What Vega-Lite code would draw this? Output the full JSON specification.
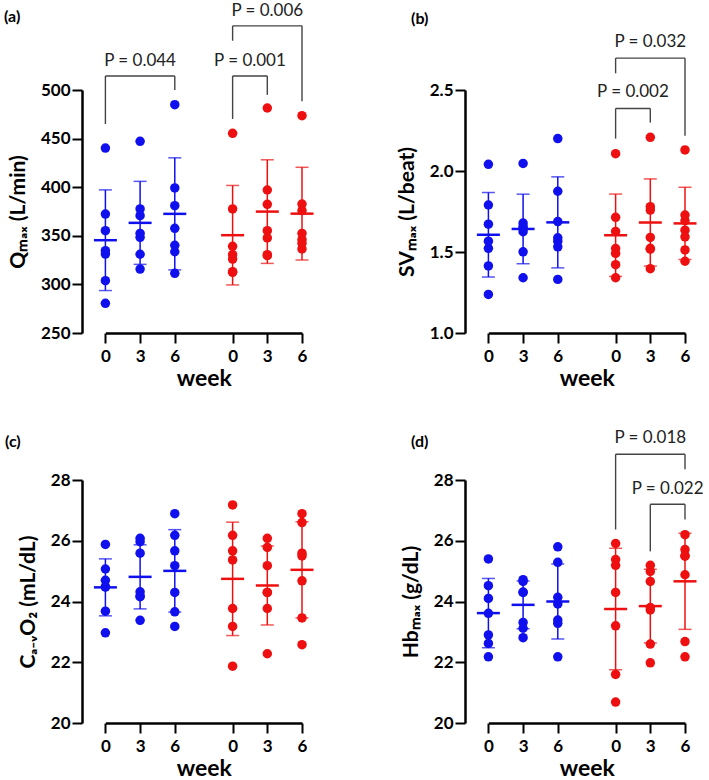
{
"$schema":"https://vega.github.io/schema/vega-lite/v6.json",
"background":"white",
"padding":{"left":4,"top":2,"right":2,"bottom":3},
"config":{
 "view":{"stroke":null},
 "font":"Lato",
 "axis":{"grid":false,"domainColor":"#000","domainWidth":2.5,"tickColor":"#000","tickWidth":2,"tickSize":10,"labelFont":"Lato","labelFontWeight":"bold","labelFontSize":17,"labelColor":"#000","titleFont":"Lato","titleFontWeight":"bold","titleColor":"#000"},
 "axisX":{"labelAngle":0,"labelPadding":5,"titleFontSize":23,"titlePadding":3},
 "axisY":{"titleFontSize":21,"labelPadding":2,"titlePadding":12},
 "title":{"font":"Lato","fontSize":16,"fontWeight":"bold","color":"#000","anchor":"start","frame":"group","offset":0},
 "circle":{"size":90,"opacity":1}
},
"datasets":{
 "pts":[
  {"p":"a","g":"A","c":"A0","v":440.3,"j":0},{"p":"a","g":"A","c":"A0","v":372.4,"j":0},{"p":"a","g":"A","c":"A0","v":355.3,"j":0},{"p":"a","g":"A","c":"A0","v":334.7,"j":1},{"p":"a","g":"A","c":"A0","v":331.2,"j":-1},{"p":"a","g":"A","c":"A0","v":303.8,"j":0},{"p":"a","g":"A","c":"A0","v":280.5,"j":0},
  {"p":"a","g":"A","c":"A3","v":447.2,"j":0},{"p":"a","g":"A","c":"A3","v":377.6,"j":1},{"p":"a","g":"A","c":"A3","v":370.7,"j":-1},{"p":"a","g":"A","c":"A3","v":352.5,"j":1},{"p":"a","g":"A","c":"A3","v":348.4,"j":-1},{"p":"a","g":"A","c":"A3","v":331.0,"j":0},{"p":"a","g":"A","c":"A3","v":315.8,"j":0},
  {"p":"a","g":"A","c":"A6","v":484.9,"j":0},{"p":"a","g":"A","c":"A6","v":399.2,"j":0},{"p":"a","g":"A","c":"A6","v":381.0,"j":0},{"p":"a","g":"A","c":"A6","v":357.7,"j":0},{"p":"a","g":"A","c":"A6","v":340.2,"j":-1},{"p":"a","g":"A","c":"A6","v":333.6,"j":1},{"p":"a","g":"A","c":"A6","v":311.4,"j":0},
  {"p":"a","g":"B","c":"B0","v":455.4,"j":0},{"p":"a","g":"B","c":"B0","v":377.6,"j":0},{"p":"a","g":"B","c":"B0","v":339.2,"j":-1},{"p":"a","g":"B","c":"B0","v":330.6,"j":1},{"p":"a","g":"B","c":"B0","v":326.1,"j":-1},{"p":"a","g":"B","c":"B0","v":313.1,"j":1},{"p":"a","g":"B","c":"B0","v":312.4,"j":-1},
  {"p":"a","g":"B","c":"B3","v":481.5,"j":0},{"p":"a","g":"B","c":"B3","v":397.1,"j":0},{"p":"a","g":"B","c":"B3","v":382.4,"j":0},{"p":"a","g":"B","c":"B3","v":355.3,"j":1},{"p":"a","g":"B","c":"B3","v":347.8,"j":-1},{"p":"a","g":"B","c":"B3","v":330.6,"j":1},{"p":"a","g":"B","c":"B3","v":329.6,"j":-1},
  {"p":"a","g":"B","c":"B6","v":473.6,"j":0},{"p":"a","g":"B","c":"B6","v":382.7,"j":-1},{"p":"a","g":"B","c":"B6","v":375.9,"j":0},{"p":"a","g":"B","c":"B6","v":352.5,"j":1},{"p":"a","g":"B","c":"B6","v":346.0,"j":0},{"p":"a","g":"B","c":"B6","v":342.3,"j":1},{"p":"a","g":"B","c":"B6","v":336.5,"j":-1},
  {"p":"b","g":"A","c":"A0","v":2.041,"j":0},{"p":"b","g":"A","c":"A0","v":1.790,"j":0},{"p":"b","g":"A","c":"A0","v":1.672,"j":0},{"p":"b","g":"A","c":"A0","v":1.567,"j":1},{"p":"b","g":"A","c":"A0","v":1.523,"j":-1},{"p":"b","g":"A","c":"A0","v":1.414,"j":0},{"p":"b","g":"A","c":"A0","v":1.238,"j":0},
  {"p":"b","g":"A","c":"A3","v":2.047,"j":0},{"p":"b","g":"A","c":"A3","v":1.679,"j":1},{"p":"b","g":"A","c":"A3","v":1.658,"j":0.5},{"p":"b","g":"A","c":"A3","v":1.645,"j":-1.6},{"p":"b","g":"A","c":"A3","v":1.625,"j":-0.5},{"p":"b","g":"A","c":"A3","v":1.501,"j":0},{"p":"b","g":"A","c":"A3","v":1.341,"j":0},
  {"p":"b","g":"A","c":"A6","v":2.200,"j":0},{"p":"b","g":"A","c":"A6","v":1.875,"j":0},{"p":"b","g":"A","c":"A6","v":1.688,"j":0},{"p":"b","g":"A","c":"A6","v":1.588,"j":-1},{"p":"b","g":"A","c":"A6","v":1.567,"j":1},{"p":"b","g":"A","c":"A6","v":1.532,"j":0},{"p":"b","g":"A","c":"A6","v":1.331,"j":0},
  {"p":"b","g":"B","c":"B0","v":2.107,"j":0},{"p":"b","g":"B","c":"B0","v":1.714,"j":0},{"p":"b","g":"B","c":"B0","v":1.627,"j":0},{"p":"b","g":"B","c":"B0","v":1.521,"j":-1},{"p":"b","g":"B","c":"B0","v":1.492,"j":1},{"p":"b","g":"B","c":"B0","v":1.422,"j":1},{"p":"b","g":"B","c":"B0","v":1.341,"j":0},
  {"p":"b","g":"B","c":"B3","v":2.208,"j":0},{"p":"b","g":"B","c":"B3","v":1.780,"j":1},{"p":"b","g":"B","c":"B3","v":1.759,"j":-1},{"p":"b","g":"B","c":"B3","v":1.590,"j":0},{"p":"b","g":"B","c":"B3","v":1.523,"j":-1},{"p":"b","g":"B","c":"B3","v":1.517,"j":1},{"p":"b","g":"B","c":"B3","v":1.397,"j":0},
  {"p":"b","g":"B","c":"B6","v":2.130,"j":0},{"p":"b","g":"B","c":"B6","v":1.728,"j":1},{"p":"b","g":"B","c":"B6","v":1.693,"j":-1},{"p":"b","g":"B","c":"B6","v":1.635,"j":1},{"p":"b","g":"B","c":"B6","v":1.594,"j":-1},{"p":"b","g":"B","c":"B6","v":1.513,"j":-1},{"p":"b","g":"B","c":"B6","v":1.443,"j":0},
  {"p":"c","g":"A","c":"A0","v":25.88,"j":0},{"p":"c","g":"A","c":"A0","v":25.07,"j":0},{"p":"c","g":"A","c":"A0","v":24.70,"j":0},{"p":"c","g":"A","c":"A0","v":24.48,"j":-1},{"p":"c","g":"A","c":"A0","v":24.48,"j":1},{"p":"c","g":"A","c":"A0","v":23.68,"j":0},{"p":"c","g":"A","c":"A0","v":22.97,"j":0},
  {"p":"c","g":"A","c":"A3","v":26.08,"j":-0.5},{"p":"c","g":"A","c":"A3","v":25.97,"j":0.5},{"p":"c","g":"A","c":"A3","v":25.59,"j":0},{"p":"c","g":"A","c":"A3","v":24.32,"j":-1},{"p":"c","g":"A","c":"A3","v":24.18,"j":1},{"p":"c","g":"A","c":"A3","v":24.16,"j":0},{"p":"c","g":"A","c":"A3","v":23.38,"j":0},
  {"p":"c","g":"A","c":"A6","v":26.89,"j":0},{"p":"c","g":"A","c":"A6","v":26.18,"j":0},{"p":"c","g":"A","c":"A6","v":25.67,"j":0},{"p":"c","g":"A","c":"A6","v":25.18,"j":0},{"p":"c","g":"A","c":"A6","v":24.30,"j":0},{"p":"c","g":"A","c":"A6","v":23.66,"j":0},{"p":"c","g":"A","c":"A6","v":23.18,"j":0},
  {"p":"c","g":"B","c":"B0","v":27.18,"j":0},{"p":"c","g":"B","c":"B0","v":26.18,"j":0},{"p":"c","g":"B","c":"B0","v":25.67,"j":-1},{"p":"c","g":"B","c":"B0","v":25.37,"j":1},{"p":"c","g":"B","c":"B0","v":23.77,"j":0},{"p":"c","g":"B","c":"B0","v":23.18,"j":0},{"p":"c","g":"B","c":"B0","v":21.87,"j":0},
  {"p":"c","g":"B","c":"B3","v":26.08,"j":-1},{"p":"c","g":"B","c":"B3","v":25.78,"j":1},{"p":"c","g":"B","c":"B3","v":25.18,"j":0},{"p":"c","g":"B","c":"B3","v":24.30,"j":-1},{"p":"c","g":"B","c":"B3","v":24.30,"j":1},{"p":"c","g":"B","c":"B3","v":23.77,"j":0},{"p":"c","g":"B","c":"B3","v":22.28,"j":0},
  {"p":"c","g":"B","c":"B6","v":26.89,"j":-1},{"p":"c","g":"B","c":"B6","v":26.60,"j":1},{"p":"c","g":"B","c":"B6","v":25.59,"j":-1},{"p":"c","g":"B","c":"B6","v":25.50,"j":1},{"p":"c","g":"B","c":"B6","v":24.68,"j":0},{"p":"c","g":"B","c":"B6","v":23.46,"j":0},{"p":"c","g":"B","c":"B6","v":22.58,"j":0},
  {"p":"d","g":"A","c":"A0","v":25.40,"j":0},{"p":"d","g":"A","c":"A0","v":24.52,"j":0},{"p":"d","g":"A","c":"A0","v":24.10,"j":0},{"p":"d","g":"A","c":"A0","v":23.61,"j":0},{"p":"d","g":"A","c":"A0","v":22.90,"j":-1},{"p":"d","g":"A","c":"A0","v":22.62,"j":1},{"p":"d","g":"A","c":"A0","v":22.18,"j":0},
  {"p":"d","g":"A","c":"A3","v":24.72,"j":-1},{"p":"d","g":"A","c":"A3","v":24.66,"j":0},{"p":"d","g":"A","c":"A3","v":24.31,"j":-1},{"p":"d","g":"A","c":"A3","v":24.30,"j":1},{"p":"d","g":"A","c":"A3","v":23.31,"j":0},{"p":"d","g":"A","c":"A3","v":23.12,"j":1},{"p":"d","g":"A","c":"A3","v":22.81,"j":-1},
  {"p":"d","g":"A","c":"A6","v":25.80,"j":0},{"p":"d","g":"A","c":"A6","v":25.29,"j":0},{"p":"d","g":"A","c":"A6","v":24.14,"j":-1},{"p":"d","g":"A","c":"A6","v":23.92,"j":1},{"p":"d","g":"A","c":"A6","v":23.39,"j":-1},{"p":"d","g":"A","c":"A6","v":23.28,"j":1},{"p":"d","g":"A","c":"A6","v":22.18,"j":0},
  {"p":"d","g":"B","c":"B0","v":25.91,"j":0},{"p":"d","g":"B","c":"B0","v":25.38,"j":1},{"p":"d","g":"B","c":"B0","v":25.19,"j":-1},{"p":"d","g":"B","c":"B0","v":24.30,"j":0},{"p":"d","g":"B","c":"B0","v":23.20,"j":0},{"p":"d","g":"B","c":"B0","v":21.60,"j":0},{"p":"d","g":"B","c":"B0","v":20.69,"j":0},
  {"p":"d","g":"B","c":"B3","v":25.19,"j":-1},{"p":"d","g":"B","c":"B3","v":24.99,"j":1},{"p":"d","g":"B","c":"B3","v":24.66,"j":-1},{"p":"d","g":"B","c":"B3","v":23.80,"j":1},{"p":"d","g":"B","c":"B3","v":23.72,"j":-1},{"p":"d","g":"B","c":"B3","v":22.60,"j":0},{"p":"d","g":"B","c":"B3","v":21.98,"j":0},
  {"p":"d","g":"B","c":"B6","v":26.20,"j":0},{"p":"d","g":"B","c":"B6","v":25.71,"j":-1},{"p":"d","g":"B","c":"B6","v":25.51,"j":0},{"p":"d","g":"B","c":"B6","v":25.49,"j":1},{"p":"d","g":"B","c":"B6","v":24.88,"j":0},{"p":"d","g":"B","c":"B6","v":22.68,"j":0},{"p":"d","g":"B","c":"B6","v":22.18,"j":0}
 ],
 "br":[
  {"p":"a","x1":"A0","x2":"A6","y1":514.4,"y2":514.4},{"p":"a","x1":"A0","x2":"A0","y1":465,"y2":514.4},{"p":"a","x1":"A6","x2":"A6","y1":500,"y2":514.4},
  {"p":"a","x1":"B0","x2":"B3","y1":514.4,"y2":514.4},{"p":"a","x1":"B0","x2":"B0","y1":470.2,"y2":514.4},{"p":"a","x1":"B3","x2":"B3","y1":495,"y2":514.4},
  {"p":"a","x1":"B0","x2":"B6","y1":566,"y2":566},{"p":"a","x1":"B0","x2":"B0","y1":550.7,"y2":566},{"p":"a","x1":"B6","x2":"B6","y1":488.3,"y2":566},
  {"p":"b","x1":"B0","x2":"B3","y1":2.386,"y2":2.386},{"p":"b","x1":"B0","x2":"B0","y1":2.2,"y2":2.386},{"p":"b","x1":"B3","x2":"B3","y1":2.299,"y2":2.386},
  {"p":"b","x1":"B0","x2":"B6","y1":2.697,"y2":2.697},{"p":"b","x1":"B0","x2":"B0","y1":2.603,"y2":2.697},{"p":"b","x1":"B6","x2":"B6","y1":2.217,"y2":2.697},
  {"p":"d","x1":"B0","x2":"B6","y1":28.85,"y2":28.85},{"p":"d","x1":"B0","x2":"B0","y1":26.37,"y2":28.85},{"p":"d","x1":"B6","x2":"B6","y1":28.35,"y2":28.85},
  {"p":"d","x1":"B3","x2":"B6","y1":27.2,"y2":27.2},{"p":"d","x1":"B3","x2":"B3","y1":25.65,"y2":27.2},{"p":"d","x1":"B6","x2":"B6","y1":26.7,"y2":27.2}
 ],
 "pl":[
  {"p":"a","x":"A3","y":530,"t":"P = 0.044"},{"p":"a","x":"s25","y":530,"t":"P = 0.001"},{"p":"a","x":"B3","y":581,"t":"P = 0.006"},
  {"p":"b","x":"s25","y":2.486,"t":"P = 0.002"},{"p":"b","x":"B3","y":2.794,"t":"P = 0.032"},
  {"p":"d","x":"B3","y":29.37,"t":"P = 0.018"},{"p":"d","x":"s31","y":27.69,"t":"P = 0.022"}
 ]
},
"bounds":"flush",
"columns":2,
"spacing":{"row":147,"column":140},
"concat":[
 {"width":243,"height":243,
  "title":{"text":"(a)","dx":-78,"dy":27},
  "layer":[
   {"data":{"name":"br"},"transform":[{"filter":"datum.p=='a'"}],"mark":{"type":"rule","color":"#444","strokeWidth":1.4},
    "encoding":{"x":{"field":"x1","type":"nominal","title":"week","scale":{"type":"point","padding":0,"range":[23.4,220],"domain":["A0","s1","s2","s3","s4","s5","A3","s7","s8","s9","s10","s11","A6","s13","s14","s15","s16","s17","s18","s19","s20","s21","B0","s23","s24","s25","s26","s27","B3","s29","s30","s31","s32","s33","B6"]}},"x2":{"field":"x2"},"y":{"field":"y1","type":"quantitative","title":"Qₘₐₓ (L/min)"},"y2":{"field":"y2"}}},
   {"data":{"name":"pl"},"transform":[{"filter":"datum.p=='a'"}],"mark":{"type":"text","fontSize":17,"font":"Lato","color":"#222"},
    "encoding":{"x":{"field":"x","type":"nominal","title":"week"},"y":{"field":"y","type":"quantitative","title":"Qₘₐₓ (L/min)"},"text":{"field":"t"}}},
   {"data":{"name":"pts"},"transform":[{"filter":"datum.p=='a'"}],"mark":{"type":"errorbar","extent":"stdev","ticks":true,"size":13,"thickness":1.5},
    "encoding":{"x":{"field":"c","type":"nominal","title":"week","axis":{"values":["A0","A3","A6","B0","B3","B6"],"labelExpr":"substring(datum.value,1)"}},
     "y":{"field":"v","type":"quantitative","title":"Qₘₐₓ (L/min)","scale":{"domain":[250,500],"nice":false,"zero":false},"axis":{"values":[250,300,350,400,450,500]}},
     "color":{"field":"g","type":"nominal","scale":{"domain":["A","B"],"range":["#1010ee","#ee1010"]},"legend":null}}},
   {"data":{"name":"pts"},"transform":[{"filter":"datum.p=='a'"}],"mark":{"type":"tick","size":23,"thickness":2.5},
    "encoding":{"x":{"field":"c","type":"nominal","title":"week"},"y":{"aggregate":"mean","field":"v","type":"quantitative","title":"Qₘₐₓ (L/min)"},"color":{"field":"g","type":"nominal","legend":null}}},
   {"data":{"name":"pts"},"transform":[{"filter":"datum.p=='a' && datum.j==-1"}],"mark":{"type":"circle","dx":-7},
    "encoding":{"x":{"field":"c","type":"nominal","title":"week"},"y":{"field":"v","type":"quantitative","title":"Qₘₐₓ (L/min)"},"color":{"field":"g","type":"nominal","legend":null}}},
   {"data":{"name":"pts"},"transform":[{"filter":"datum.p=='a' && datum.j==0"}],"mark":{"type":"circle"},
    "encoding":{"x":{"field":"c","type":"nominal","title":"week"},"y":{"field":"v","type":"quantitative","title":"Qₘₐₓ (L/min)"},"color":{"field":"g","type":"nominal","legend":null}}},
   {"data":{"name":"pts"},"transform":[{"filter":"datum.p=='a' && datum.j==1"}],"mark":{"type":"circle","dx":7},
    "encoding":{"x":{"field":"c","type":"nominal","title":"week"},"y":{"field":"v","type":"quantitative","title":"Qₘₐₓ (L/min)"},"color":{"field":"g","type":"nominal","legend":null}}}
  ]},
 {"width":243,"height":243,
  "title":{"text":"(b)","dx":-54,"dy":-2},
  "layer":[
   {"data":{"name":"br"},"transform":[{"filter":"datum.p=='b'"}],"mark":{"type":"rule","color":"#444","strokeWidth":1.4},
    "encoding":{"x":{"field":"x1","type":"nominal","title":"week","scale":{"type":"point","padding":0,"range":[23.4,220],"domain":["A0","s1","s2","s3","s4","s5","A3","s7","s8","s9","s10","s11","A6","s13","s14","s15","s16","s17","s18","s19","s20","s21","B0","s23","s24","s25","s26","s27","B3","s29","s30","s31","s32","s33","B6"]}},"x2":{"field":"x2"},"y":{"field":"y1","type":"quantitative","title":"SVₘₐₓ (L/beat)"},"y2":{"field":"y2"}}},
   {"data":{"name":"pl"},"transform":[{"filter":"datum.p=='b'"}],"mark":{"type":"text","fontSize":17,"font":"Lato","color":"#222"},
    "encoding":{"x":{"field":"x","type":"nominal","title":"week"},"y":{"field":"y","type":"quantitative","title":"SVₘₐₓ (L/beat)"},"text":{"field":"t"}}},
   {"data":{"name":"pts"},"transform":[{"filter":"datum.p=='b'"}],"mark":{"type":"errorbar","extent":"stdev","ticks":true,"size":13,"thickness":1.5},
    "encoding":{"x":{"field":"c","type":"nominal","title":"week","axis":{"values":["A0","A3","A6","B0","B3","B6"],"labelExpr":"substring(datum.value,1)"}},
     "y":{"field":"v","type":"quantitative","title":"SVₘₐₓ (L/beat)","scale":{"domain":[1,2.5],"nice":false,"zero":false},"axis":{"values":[1,1.5,2,2.5],"format":".1f"}},
     "color":{"field":"g","type":"nominal","scale":{"domain":["A","B"],"range":["#1010ee","#ee1010"]},"legend":null}}},
   {"data":{"name":"pts"},"transform":[{"filter":"datum.p=='b'"}],"mark":{"type":"tick","size":23,"thickness":2.5},
    "encoding":{"x":{"field":"c","type":"nominal","title":"week"},"y":{"aggregate":"mean","field":"v","type":"quantitative","title":"SVₘₐₓ (L/beat)"},"color":{"field":"g","type":"nominal","legend":null}}},
   {"data":{"name":"pts"},"transform":[{"filter":"datum.p=='b' && datum.j==-1.6"}],"mark":{"type":"circle","dx":-11},
    "encoding":{"x":{"field":"c","type":"nominal","title":"week"},"y":{"field":"v","type":"quantitative","title":"SVₘₐₓ (L/beat)"},"color":{"field":"g","type":"nominal","legend":null}}},
   {"data":{"name":"pts"},"transform":[{"filter":"datum.p=='b' && datum.j==-1"}],"mark":{"type":"circle","dx":-7},
    "encoding":{"x":{"field":"c","type":"nominal","title":"week"},"y":{"field":"v","type":"quantitative","title":"SVₘₐₓ (L/beat)"},"color":{"field":"g","type":"nominal","legend":null}}},
   {"data":{"name":"pts"},"transform":[{"filter":"datum.p=='b' && datum.j==-0.5"}],"mark":{"type":"circle","dx":-3},
    "encoding":{"x":{"field":"c","type":"nominal","title":"week"},"y":{"field":"v","type":"quantitative","title":"SVₘₐₓ (L/beat)"},"color":{"field":"g","type":"nominal","legend":null}}},
   {"data":{"name":"pts"},"transform":[{"filter":"datum.p=='b' && datum.j==0"}],"mark":{"type":"circle"},
    "encoding":{"x":{"field":"c","type":"nominal","title":"week"},"y":{"field":"v","type":"quantitative","title":"SVₘₐₓ (L/beat)"},"color":{"field":"g","type":"nominal","legend":null}}},
   {"data":{"name":"pts"},"transform":[{"filter":"datum.p=='b' && datum.j==0.5"}],"mark":{"type":"circle","dx":3},
    "encoding":{"x":{"field":"c","type":"nominal","title":"week"},"y":{"field":"v","type":"quantitative","title":"SVₘₐₓ (L/beat)"},"color":{"field":"g","type":"nominal","legend":null}}},
   {"data":{"name":"pts"},"transform":[{"filter":"datum.p=='b' && datum.j==1"}],"mark":{"type":"circle","dx":7},
    "encoding":{"x":{"field":"c","type":"nominal","title":"week"},"y":{"field":"v","type":"quantitative","title":"SVₘₐₓ (L/beat)"},"color":{"field":"g","type":"nominal","legend":null}}}
  ]},
 {"width":243,"height":243,
  "title":{"text":"(c)","dx":-77,"dy":-17},
  "layer":[
   {"data":{"name":"pts"},"transform":[{"filter":"datum.p=='c'"}],"mark":{"type":"errorbar","extent":"stdev","ticks":true,"size":13,"thickness":1.5},
    "encoding":{"x":{"field":"c","type":"nominal","title":"week","scale":{"type":"point","padding":0,"range":[23.4,220],"domain":["A0","s1","s2","s3","s4","s5","A3","s7","s8","s9","s10","s11","A6","s13","s14","s15","s16","s17","s18","s19","s20","s21","B0","s23","s24","s25","s26","s27","B3","s29","s30","s31","s32","s33","B6"]},"axis":{"values":["A0","A3","A6","B0","B3","B6"],"labelExpr":"substring(datum.value,1)"}},
     "y":{"field":"v","type":"quantitative","title":"Cₐ₋ᵥO₂ (mL/dL)","scale":{"domain":[20,28],"nice":false,"zero":false},"axis":{"values":[20,22,24,26,28]}},
     "color":{"field":"g","type":"nominal","scale":{"domain":["A","B"],"range":["#1010ee","#ee1010"]},"legend":null}}},
   {"data":{"name":"pts"},"transform":[{"filter":"datum.p=='c'"}],"mark":{"type":"tick","size":23,"thickness":2.5},
    "encoding":{"x":{"field":"c","type":"nominal","title":"week"},"y":{"aggregate":"mean","field":"v","type":"quantitative","title":"Cₐ₋ᵥO₂ (mL/dL)"},"color":{"field":"g","type":"nominal","legend":null}}},
   {"data":{"name":"pts"},"transform":[{"filter":"datum.p=='c' && datum.j==-1"}],"mark":{"type":"circle","dx":-7},
    "encoding":{"x":{"field":"c","type":"nominal","title":"week"},"y":{"field":"v","type":"quantitative","title":"Cₐ₋ᵥO₂ (mL/dL)"},"color":{"field":"g","type":"nominal","legend":null}}},
   {"data":{"name":"pts"},"transform":[{"filter":"datum.p=='c' && datum.j==-0.5"}],"mark":{"type":"circle","dx":-3.5},
    "encoding":{"x":{"field":"c","type":"nominal","title":"week"},"y":{"field":"v","type":"quantitative","title":"Cₐ₋ᵥO₂ (mL/dL)"},"color":{"field":"g","type":"nominal","legend":null}}},
   {"data":{"name":"pts"},"transform":[{"filter":"datum.p=='c' && datum.j==0"}],"mark":{"type":"circle"},
    "encoding":{"x":{"field":"c","type":"nominal","title":"week"},"y":{"field":"v","type":"quantitative","title":"Cₐ₋ᵥO₂ (mL/dL)"},"color":{"field":"g","type":"nominal","legend":null}}},
   {"data":{"name":"pts"},"transform":[{"filter":"datum.p=='c' && datum.j==0.5"}],"mark":{"type":"circle","dx":4},
    "encoding":{"x":{"field":"c","type":"nominal","title":"week"},"y":{"field":"v","type":"quantitative","title":"Cₐ₋ᵥO₂ (mL/dL)"},"color":{"field":"g","type":"nominal","legend":null}}},
   {"data":{"name":"pts"},"transform":[{"filter":"datum.p=='c' && datum.j==1"}],"mark":{"type":"circle","dx":7},
    "encoding":{"x":{"field":"c","type":"nominal","title":"week"},"y":{"field":"v","type":"quantitative","title":"Cₐ₋ᵥO₂ (mL/dL)"},"color":{"field":"g","type":"nominal","legend":null}}}
  ]},
 {"width":243,"height":243,
  "title":{"text":"(d)","dx":-54,"dy":25},
  "layer":[
   {"data":{"name":"br"},"transform":[{"filter":"datum.p=='d'"}],"mark":{"type":"rule","color":"#444","strokeWidth":1.4},
    "encoding":{"x":{"field":"x1","type":"nominal","title":"week","scale":{"type":"point","padding":0,"range":[23.4,220],"domain":["A0","s1","s2","s3","s4","s5","A3","s7","s8","s9","s10","s11","A6","s13","s14","s15","s16","s17","s18","s19","s20","s21","B0","s23","s24","s25","s26","s27","B3","s29","s30","s31","s32","s33","B6"]}},"x2":{"field":"x2"},"y":{"field":"y1","type":"quantitative","title":"Hbₘₐₓ (g/dL)"},"y2":{"field":"y2"}}},
   {"data":{"name":"pl"},"transform":[{"filter":"datum.p=='d'"}],"mark":{"type":"text","fontSize":17,"font":"Lato","color":"#222"},
    "encoding":{"x":{"field":"x","type":"nominal","title":"week"},"y":{"field":"y","type":"quantitative","title":"Hbₘₐₓ (g/dL)"},"text":{"field":"t"}}},
   {"data":{"name":"pts"},"transform":[{"filter":"datum.p=='d'"}],"mark":{"type":"errorbar","extent":"stdev","ticks":true,"size":13,"thickness":1.5},
    "encoding":{"x":{"field":"c","type":"nominal","title":"week","axis":{"values":["A0","A3","A6","B0","B3","B6"],"labelExpr":"substring(datum.value,1)"}},
     "y":{"field":"v","type":"quantitative","title":"Hbₘₐₓ (g/dL)","scale":{"domain":[20,28],"nice":false,"zero":false},"axis":{"values":[20,22,24,26,28]}},
     "color":{"field":"g","type":"nominal","scale":{"domain":["A","B"],"range":["#1010ee","#ee1010"]},"legend":null}}},
   {"data":{"name":"pts"},"transform":[{"filter":"datum.p=='d'"}],"mark":{"type":"tick","size":23,"thickness":2.5},
    "encoding":{"x":{"field":"c","type":"nominal","title":"week"},"y":{"aggregate":"mean","field":"v","type":"quantitative","title":"Hbₘₐₓ (g/dL)"},"color":{"field":"g","type":"nominal","legend":null}}},
   {"data":{"name":"pts"},"transform":[{"filter":"datum.p=='d' && datum.j==-1"}],"mark":{"type":"circle","dx":-7},
    "encoding":{"x":{"field":"c","type":"nominal","title":"week"},"y":{"field":"v","type":"quantitative","title":"Hbₘₐₓ (g/dL)"},"color":{"field":"g","type":"nominal","legend":null}}},
   {"data":{"name":"pts"},"transform":[{"filter":"datum.p=='d' && datum.j==0"}],"mark":{"type":"circle"},
    "encoding":{"x":{"field":"c","type":"nominal","title":"week"},"y":{"field":"v","type":"quantitative","title":"Hbₘₐₓ (g/dL)"},"color":{"field":"g","type":"nominal","legend":null}}},
   {"data":{"name":"pts"},"transform":[{"filter":"datum.p=='d' && datum.j==1"}],"mark":{"type":"circle","dx":7},
    "encoding":{"x":{"field":"c","type":"nominal","title":"week"},"y":{"field":"v","type":"quantitative","title":"Hbₘₐₓ (g/dL)"},"color":{"field":"g","type":"nominal","legend":null}}}
  ]}
]
}
